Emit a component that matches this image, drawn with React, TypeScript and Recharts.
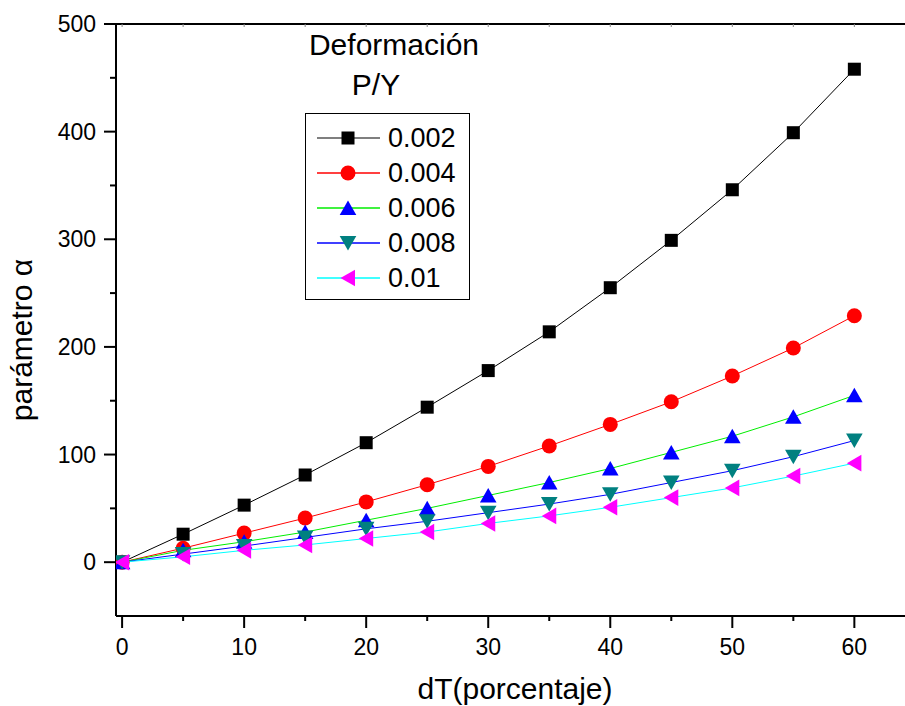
import React from "react";
import { LineChart, Line, XAxis, YAxis } from "recharts";

// dT (porcentaje) values and alpha parameter for each deformation P/Y
const dT = [0, 5, 10, 15, 20, 25, 30, 35, 40, 45, 50, 55, 60];
const def002 = [0, 26, 53, 81, 111, 144, 178, 214, 255, 299, 346, 399, 458];
const def004 = [0, 13, 27, 41, 56, 72, 89, 108, 128, 149, 173, 199, 229];
const def006 = [0, 11, 19, 28, 39, 50, 62, 74, 87, 102, 117, 135, 155];
const def008 = [0, 7.5, 15, 23, 31, 38, 46, 54, 63, 74, 85, 98, 113];
const def010 = [0, 5, 11, 16, 22, 28, 36, 43, 51, 60, 69, 80, 92];

const xTicks = [0, 5, 10, 15, 20, 25, 30, 35, 40, 45, 50, 55, 60];
const yTicks = [0, 50, 100, 150, 200, 250, 300, 350, 400, 450, 500];

const FONT = "'Liberation Sans', Arial, sans-serif";

type Shape = "square" | "circle" | "up" | "down" | "left";

const series: { key: string; name: string; values: number[]; line: string; marker: string; shape: Shape }[] = [
  { key: "d002", name: "0.002", values: def002, line: "#000000", marker: "#000000", shape: "square" },
  { key: "d004", name: "0.004", values: def004, line: "#ff0000", marker: "#ff0000", shape: "circle" },
  { key: "d006", name: "0.006", values: def006, line: "#00ee00", marker: "#0000ff", shape: "up" },
  { key: "d008", name: "0.008", values: def008, line: "#0000ff", marker: "#008080", shape: "down" },
  { key: "d010", name: "0.01", values: def010, line: "#00ffff", marker: "#ff00ff", shape: "left" },
];

const data = dT.map((x, i) => {
  const row: Record<string, number> = { x };
  series.forEach((s) => (row[s.key] = s.values[i]));
  return row;
});

function Marker({ cx, cy, shape, color }: { cx: number; cy: number; shape: Shape; color: string }) {
  switch (shape) {
    case "square":
      return <rect x={cx - 6.5} y={cy - 6.5} width={13} height={13} fill={color} />;
    case "circle":
      return <circle cx={cx} cy={cy} r={7.5} fill={color} />;
    case "up":
      return <polygon points={`${cx},${cy - 7.5} ${cx + 8.3},${cy + 7} ${cx - 8.3},${cy + 7}`} fill={color} />;
    case "down":
      return <polygon points={`${cx},${cy + 7.5} ${cx + 8.3},${cy - 7} ${cx - 8.3},${cy - 7}`} fill={color} />;
    default:
      return <polygon points={`${cx - 7.5},${cy} ${cx + 7},${cy - 8.3} ${cx + 7},${cy + 8.3}`} fill={color} />;
  }
}

const XTick = (props: any) => {
  const { x, y, payload } = props;
  const major = payload.value % 10 === 0;
  return (
    <g>
      <line x1={x} y1={y} x2={x} y2={y + (major ? 12 : 5)} stroke="#000" strokeWidth={2} />
      {major && (
        <text x={x} y={y + 39} textAnchor="middle" fontSize={23} fontFamily={FONT} fill="#000">
          {payload.value}
        </text>
      )}
    </g>
  );
};

const TopTick = (props: any) => {
  const { x, y } = props;
  return <line x1={x} y1={y} x2={x} y2={y + 3} stroke="#888" strokeWidth={1} />;
};

const YTick = (props: any) => {
  const { x, y, payload } = props;
  const major = payload.value % 100 === 0;
  return (
    <g>
      <line x1={x} y1={y} x2={x - (major ? 12 : 6)} y2={y} stroke="#000" strokeWidth={2} />
      {major && (
        <text x={x - 20} y={y + 8} textAnchor="end" fontSize={23} fontFamily={FONT} fill="#000">
          {payload.value}
        </text>
      )}
    </g>
  );
};

export default function App() {
  return (
    <div style={{ position: "absolute", left: 0, top: 0, width: 905, height: 706, background: "#fff", overflow: "hidden" }}>
      <LineChart width={905} height={706} data={data} margin={{ top: 14, right: 0, bottom: 60, left: 56 }}>
        <XAxis
          dataKey="x"
          type="number"
          domain={[-0.5, 64.15]}
          ticks={xTicks}
          height={30}
          tickSize={0}
          tickMargin={0}
          tick={XTick}
          interval={0}
          axisLine={{ stroke: "#000", strokeWidth: 2 }}
          allowDataOverflow
        />
        <XAxis
          xAxisId="top"
          orientation="top"
          dataKey="x"
          type="number"
          domain={[-0.5, 64.15]}
          ticks={xTicks}
          height={10}
          tickSize={0}
          tickMargin={0}
          tick={TopTick}
          interval={0}
          axisLine={{ stroke: "#000", strokeWidth: 2 }}
          allowDataOverflow
        />
        <YAxis
          type="number"
          domain={[-50, 500]}
          ticks={yTicks}
          width={60}
          tickSize={0}
          tickMargin={0}
          tick={YTick}
          interval={0}
          axisLine={{ stroke: "#000", strokeWidth: 2 }}
          allowDataOverflow
        />
        {series.map((s) => (
          <Line
            key={s.key}
            dataKey={s.key}
            name={s.name}
            type="linear"
            stroke={s.line}
            strokeWidth={1}
            isAnimationActive={false}
            activeDot={false}
            dot={(p: any) => (
              <Marker key={`${s.key}-${p.index}`} cx={p.cx} cy={p.cy} shape={s.shape} color={s.marker} />
            )}
          />
        ))}
      </LineChart>
      <svg width={905} height={706} style={{ position: "absolute", left: 0, top: 0, pointerEvents: "none" }}>
        <g fontFamily={FONT} fill="#000">
          <text x={394} y={55} fontSize={30} textAnchor="middle">Deformación</text>
          <text x={376} y={95} fontSize={30} textAnchor="middle">P/Y</text>
          <text x={515} y={699} fontSize={30} textAnchor="middle">dT(porcentaje)</text>
          <text transform="translate(32,340) rotate(-90)" fontSize={30} textAnchor="middle">parámetro α</text>
        </g>
        <rect x={305.5} y={113.5} width={164} height={186} fill="#fff" stroke="#000" strokeWidth={1} />
        {series.map((s, i) => {
          const cy = 138 + i * 35;
          return (
            <g key={s.key}>
              <line x1={317} y1={cy} x2={380} y2={cy} stroke={s.line === "#000000" ? "#555" : s.line} strokeWidth={1.5} />
              <Marker cx={348} cy={cy} shape={s.shape} color={s.marker} />
              <text x={388} y={cy + 9} fontSize={27} fontFamily={FONT} fill="#000">
                {s.name}
              </text>
            </g>
          );
        })}
      </svg>
    </div>
  );
}
